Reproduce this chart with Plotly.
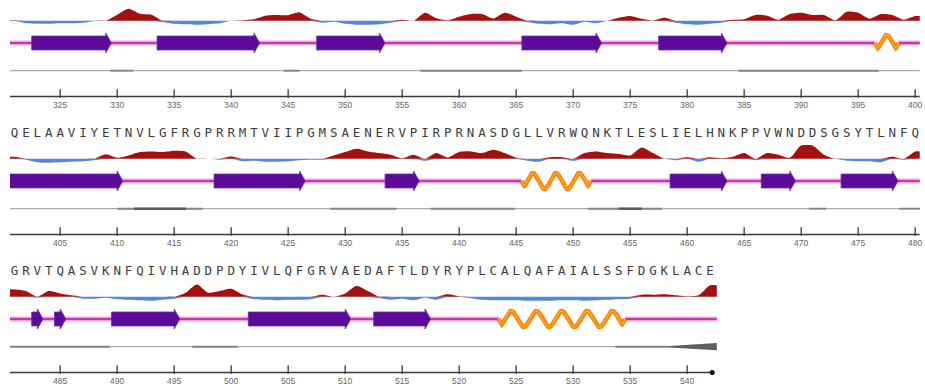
import math
import plotly.graph_objects as go

WIN_W, WIN_H = 925, 386
BODY = 0                      # page margin removed by post_script below
FIG_W, FIG_H = WIN_W - BODY, WIN_H - BODY
LEFT_PX = 10.0      # left edge of every row, window pixels
RES_PX = 11.4       # pixels per residue
ROW_STEP = 138.0    # vertical distance between rows

# ---------------- data ----------------
row_start = [321, 401, 481]
row_end = [400, 480, 542]

sequence_row2 = "QELAAVIYETNVLGFRGPRRMTVIIPGMSAENERVPIRPRNASDGLLVRWQNKTLESLIELHNKPPVWNDDSGSYTLNFQ"
sequence_row3 = "GRVTQASVKNFQIVHADDPDYIVLQFGRVAEDAFTLDYRYPLCALQAFAIALSSFDGKLACE"
sequences = [None, sequence_row2, sequence_row3]

# hydropathy-like profile (positive = red, negative = blue), one value per residue
hydro_row1 = [0.5, -2.5, -3, -3, -2.5, -2.5, -2, -0.5, 0, 6,
              12, 7, 6, -1.5, -3, -3.5, -4, -3.5, -2.5, 0,
              0.5, 1.5, 5, 5.7, 5.5, 8.3, 2, -2, -1, -3,
              -4, -4, -3.5, -2, 1, 0, 8, 2.5, 0.5, 4,
              6.7, 6.7, 2.3, 8, 4, -1.5, -3, -3.5, -2.5, -4,
              -1, -2.5, 0, 3, 4.7, 2, 0.3, 3, -2, -3.5,
              -4, -3, -2, 1, 1.5, 5.7, 5, 1, 6.7, 8,
              5.7, 5.7, 0.5, 9, 8, 2, 6.7, 5.7, 1, 4.7]
hydro_row2 = [2, -1, -3.5, -4, -3.5, -3, -2.5, -1.5, 4.5, 1,
              3.3, 6.7, 7.3, 6.7, 8, 7.3, 0, 0, -1, 2.3,
              -2.5, -2, -3, -3, -2.5, -1.5, -1, -1, 3.3, 6.7,
              10, 7.3, 5.7, 4, 0.5, 4, -2, 5.7, 1.3, 6.7,
              7.3, 5.7, 9, 5.7, 1, -2, -3, 1.5, 1.5, -2,
              5.7, 7.3, 5.7, 4.7, 3.3, 11.3, 5.7, 0, -1.5, 1.5,
              -3, 1.5, 0.5, 2, 5.7, -1.5, 5.7, 4, 1, 13.3,
              13.3, 4, 0, -2, -2.5, -2.5, -3.5, 2, -1, 7.3]
hydro_row3 = [7.3, 5.7, -1, 5.7, 3.3, 1.5, -2, -2, -1, -2.5,
              -3, -3.5, -4, -3, -2, 4, 12.3, 4, 5.7, 8,
              2.3, -2.5, -3, -3.5, -3, -3, -2.5, 2, -0.5, 3.3,
              10.7, 5.7, -1.5, -3, -2, -3.5, -1, -3, 2.5, 0.5,
              -1.5, -3, -3.5, -3.5, -3.5, -4, -4, -4, -3.5, -3.5,
              -4, -3.5, -3, -2.5, -2, 2, 2, 2.5, 1.5, 0.5,
              1.5, 11.5]
hydro = [hydro_row1, hydro_row2, hydro_row3]

# secondary structure elements (first residue, last residue)
strands = [(323, 329), (334, 342), (348, 353), (366, 372), (378, 383),
           (401, 410), (419, 426), (434, 436), (459, 463), (467, 469), (474, 478),
           (483, 483), (485, 485), (490, 495), (502, 510), (513, 517)]
helices = [(397, 398), (446, 451), (524, 534)]

# darker stretches of the grey (disorder/confidence) track: (from, to, level)
gray_dark = [(329.4, 331.4, 1), (344.6, 346.0, 1), (356.6, 365.5, 1), (384.5, 396.8, 1),
             (410.0, 417.5, 1), (411.5, 416.0, 2), (428.7, 434.5, 1), (437.5, 444.9, 1),
             (451.3, 457.8, 1), (454.0, 456.0, 2), (470.7, 472.2, 1), (478.6, 480.4, 1),
             (480.6, 489.4, 1), (496.6, 500.6, 1), (533.7, 538.4, 1)]
gray_taper = (538.4, 542.6)

tick_step = 5

# ---------------- styling (window-pixel offsets inside a row) ----------------
Y_LETTER, Y_HYD, Y_SS, Y_GRAY, Y_RULER, Y_LABEL = -4.0, 20.7, 43.0, 70.7, 96.5, 106.0

RED = "#A31010"
BLUE = "#5487D8"
PURPLE = "#5C0B99"
MAGENTA = "#C23AA6"
PINK = "#EFA2DF"
ORANGE = "#FF8200"

fig = go.Figure()


def row_range(i):
    lo = row_start[i] - 0.4
    if i < 2:
        hi = lo + (FIG_W - (LEFT_PX - BODY)) / RES_PX   # run to the right page edge
    else:
        hi = row_end[i] + 1.0
    return lo, hi


def xname(i):
    return "x" if i == 0 else f"x{i + 1}"


for i in range(3):
    xa = xname(i)
    yh = f"y{i + 2}"
    off = ROW_STEP * i
    s, e = row_start[i], row_end[i]
    line_hi = e + 0.4 if i < 2 else e + 0.6

    # ---- hydropathy areas ----
    xs = list(range(s, e + 1))
    vals = hydro[i]
    xs_ext = [s - 0.4] + xs + [line_hi]
    v_ext = [vals[0]] + vals + [vals[-1]]
    pos = [max(v, 0) for v in v_ext]
    neg = [min(v, 0) for v in v_ext]
    fig.add_trace(go.Scatter(x=xs_ext, y=neg, xaxis=xa, yaxis=yh, mode="lines",
                             line=dict(width=0, shape="spline", smoothing=0.7),
                             fill="tozeroy", fillcolor=BLUE, hoverinfo="skip"))
    fig.add_trace(go.Scatter(x=xs_ext, y=pos, xaxis=xa, yaxis=yh, mode="lines",
                             line=dict(width=0, shape="spline", smoothing=0.7),
                             fill="tozeroy", fillcolor=RED, hoverinfo="skip"))

    # ---- backbone line (broken at helices) ----
    ysS = Y_SS + off
    row_helices = [h for h in helices if s <= h[0] <= e]
    bx, by = [], []
    cur = s - 0.4
    for hs, he in row_helices:
        bx += [cur, hs - 0.55, None]
        by += [ysS, ysS, None]
        cur = he + 0.55
    bx += [cur, line_hi]
    by += [ysS, ysS]
    fig.add_trace(go.Scatter(x=bx, y=by, xaxis=xa, yaxis="y", mode="lines",
                             line=dict(color=PINK, width=5), hoverinfo="skip"))
    fig.add_trace(go.Scatter(x=bx, y=by, xaxis=xa, yaxis="y", mode="lines",
                             line=dict(color=MAGENTA, width=2.2), hoverinfo="skip"))

    # ---- strands as arrows ----
    ax, ay = [], []
    for ss, se in strands:
        if not (s <= ss <= e):
            continue
        x0, x1 = ss - 0.5, se + 0.5
        head = 0.5
        xb = x1 - head
        ax += [x0, xb, xb, x1, xb, xb, x0, x0, None]
        ay += [ysS - 7, ysS - 7, ysS - 10, ysS, ysS + 10, ysS + 7, ysS + 7, ysS - 7, None]
    if ax:
        fig.add_trace(go.Scatter(x=ax, y=ay, xaxis=xa, yaxis="y", mode="lines",
                                 line=dict(color="#7030B0", width=0.8),
                                 fill="toself", fillcolor=PURPLE, hoverinfo="skip"))

    # ---- helices as waves ----
    for hs, he in row_helices:
        x0, x1 = hs - 0.55, he + 0.55
        n = max(1, round((he - hs + 1) / 2.2))
        N = 60 * n
        hx, hy = [], []
        for k in range(N + 1):
            t = k / N
            xx = x0 + t * (x1 - x0)
            d = min(xx - x0, x1 - xx)
            env = min(1.0, d / 0.3)
            hx.append(xx)
            hy.append(ysS + 8.0 * env * math.cos(2 * math.pi * n * t))
        fig.add_trace(go.Scatter(x=hx, y=hy, xaxis=xa, yaxis="y", mode="lines",
                                 line=dict(color=ORANGE, width=4.5), hoverinfo="skip"))
        fig.add_trace(go.Scatter(x=hx, y=hy, xaxis=xa, yaxis="y", mode="lines",
                                 line=dict(color="#FFAA2A", width=1.4), hoverinfo="skip"))

    # ---- grey track ----
    yg = Y_GRAY + off
    fig.add_trace(go.Scatter(x=[s - 0.4, line_hi], y=[yg, yg], xaxis=xa, yaxis="y", mode="lines",
                             line=dict(color="#ABABAB", width=1.3), hoverinfo="skip"))
    for lvl in (1, 2):
        gx, gy = [], []
        for g0, g1, gl in gray_dark:
            if gl == lvl and s - 0.5 <= g0 <= e + 0.5:
                gx += [g0, g1, None]
                gy += [yg, yg, None]
        if gx:
            fig.add_trace(go.Scatter(x=gx, y=gy, xaxis=xa, yaxis="y", mode="lines",
                                     line=dict(color="#858585" if lvl == 1 else "#5A5A5A",
                                               width=1.9 if lvl == 1 else 2.4),
                                     hoverinfo="skip"))
    t0, t1 = gray_taper
    if s <= t0 <= e:
        fig.add_trace(go.Scatter(x=[t0, t1, t1, t0, t0],
                                 y=[yg - 0.8, yg - 3.6, yg + 3.6, yg + 0.8, yg - 0.8],
                                 xaxis=xa, yaxis="y", mode="lines", line=dict(width=0),
                                 fill="toself", fillcolor="#5E5E5E", hoverinfo="skip"))

    # ---- ruler ----
    yr = Y_RULER + off
    r_hi = e + 0.4 if i < 2 else e + 0.2
    fig.add_trace(go.Scatter(x=[s - 0.4, r_hi], y=[yr, yr], xaxis=xa, yaxis="y", mode="lines",
                             line=dict(color="#3A3A3A", width=1.5), hoverinfo="skip"))
    ticks = [t for t in range(s, e + 1) if t % tick_step == 0]
    fig.add_trace(go.Scatter(x=ticks, y=[yr - 3] * len(ticks), xaxis=xa, yaxis="y", mode="markers",
                             marker=dict(symbol="line-ns", size=6, line=dict(color="#3A3A3A", width=1.3)),
                             hoverinfo="skip"))
    fig.add_trace(go.Scatter(x=ticks, y=[Y_LABEL + off] * len(ticks), xaxis=xa, yaxis="y",
                             mode="text", text=[str(t) for t in ticks],
                             textfont=dict(family="Liberation Sans Narrow, Liberation Sans", size=8.5,
                                           color="#666666"),
                             hoverinfo="skip", cliponaxis=False))
    if i == 2:
        fig.add_trace(go.Scatter(x=[r_hi], y=[yr], xaxis=xa, yaxis="y", mode="markers",
                                 marker=dict(color="#111111", size=5), hoverinfo="skip"))

    # ---- sequence letters ----
    sq = sequences[i]
    if sq:
        fig.add_trace(go.Scatter(x=list(range(s, s + len(sq))), y=[Y_LETTER + off] * len(sq),
                                 xaxis=xa, yaxis="y", mode="text", text=list(sq),
                                 textfont=dict(family="DejaVu Sans Mono", size=12.5, color="#3C3C3C"),
                                 hoverinfo="skip", cliponaxis=False))

layout = dict(width=FIG_W, height=FIG_H, margin=dict(l=0, r=0, t=0, b=0),
              paper_bgcolor="white", plot_bgcolor="rgba(0,0,0,0)", showlegend=False)
# pixel-like y axis in window coordinates
layout["yaxis"] = dict(domain=[0, 1], range=[WIN_H, BODY], visible=False, fixedrange=True)
for i in range(3):
    lo, hi = row_range(i)
    key = "xaxis" if i == 0 else f"xaxis{i + 1}"
    left = LEFT_PX - BODY
    layout[key] = dict(domain=[left / FIG_W, min(1.0, (left + (hi - lo) * RES_PX) / FIG_W)],
                       range=[lo, hi], visible=False, anchor="y", fixedrange=True)
    base = Y_HYD + ROW_STEP * i
    top_px, bot_px = base - 14 - BODY, base + 9 - BODY
    layout[f"yaxis{i + 2}"] = dict(domain=[max(0, 1 - bot_px / FIG_H), min(1, 1 - top_px / FIG_H)],
                                   range=[-9, 14], visible=False, anchor=xname(i), fixedrange=True)
fig.update_layout(**layout)

fig.write_html("out.html", config={"displayModeBar": False},
               post_script="document.body.style.margin='0px';"
                           "document.documentElement.style.overflow='hidden';")
